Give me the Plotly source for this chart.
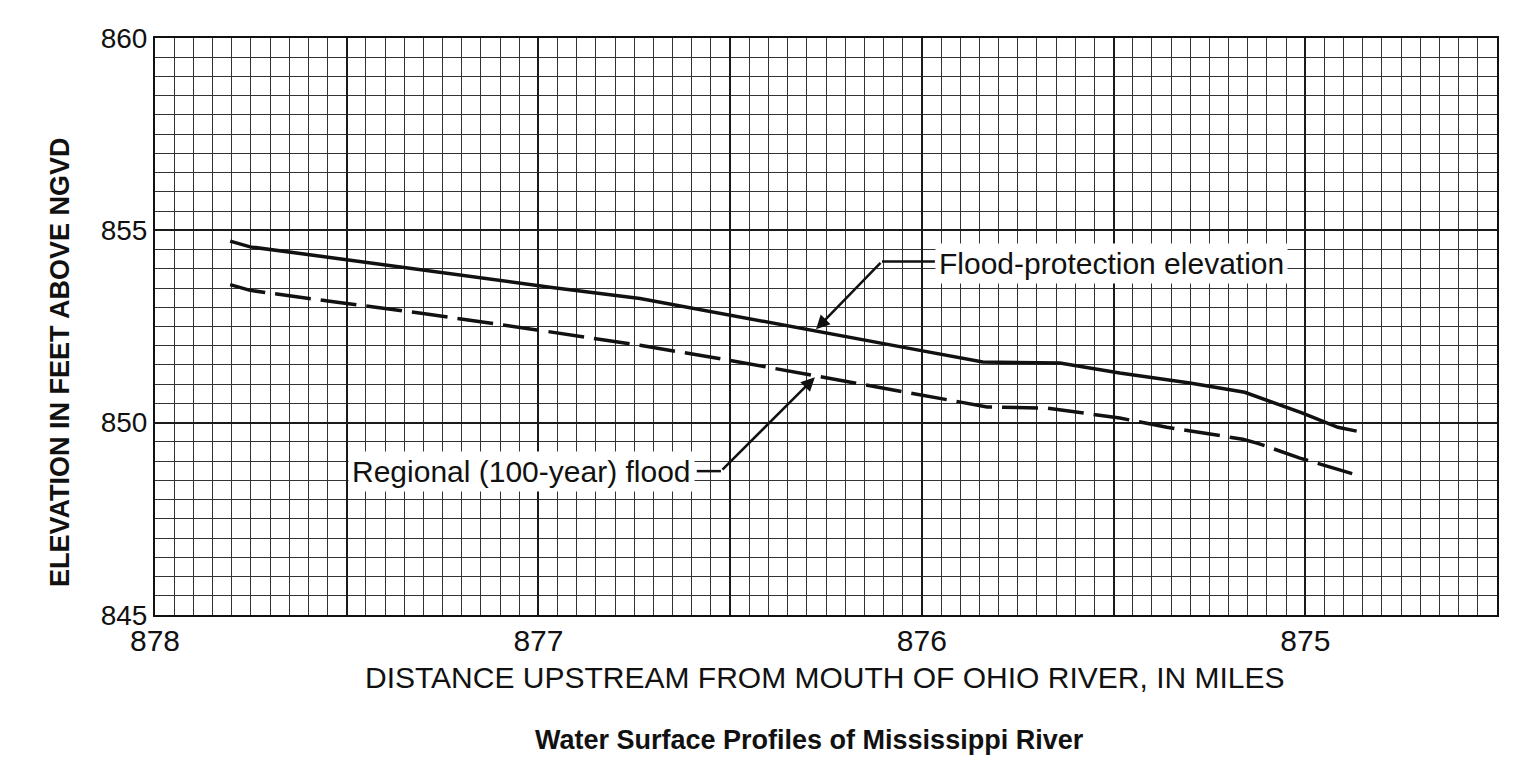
import plotly.graph_objects as go

# Distance upstream (miles) and elevations (ft above NGVD)
fp_miles = [877.804, 877.752, 877.510, 877.301, 876.970, 876.735, 876.501, 876.284,
            876.005, 875.841, 875.640, 875.484, 875.301, 875.158, 875.007, 874.915, 874.866]
fp_elev = [854.72, 854.57, 854.25, 853.96, 853.52, 853.23, 852.79, 852.40,
           851.88, 851.58, 851.55, 851.29, 851.03, 850.79, 850.25, 849.88, 849.78]

rf_miles = [877.804, 877.752, 877.525, 877.301, 876.996, 876.735, 876.501, 876.214,
            876.005, 875.830, 875.674, 875.484, 875.361, 875.163, 875.126, 875.014, 874.866]
rf_elev = [853.59, 853.44, 853.13, 852.84, 852.40, 852.01, 851.62, 851.10,
           850.71, 850.41, 850.38, 850.12, 849.88, 849.57, 849.47, 849.08, 848.64]

x_tickvals = [878, 877.5, 877, 876.5, 876, 875.5, 875]
x_ticktext = ["878", "", "877", "", "876", "", "875"]
y_tickvals = [845, 850, 855, 860]
y_ticktext = ["845", "850", "855", "860"]

fp_label = "Flood-protection elevation"
rf_label = "Regional (100-year) flood"
x_title = "DISTANCE UPSTREAM FROM MOUTH OF OHIO RIVER, IN MILES"
y_title = "ELEVATION IN FEET ABOVE NGVD"
chart_title = "Water Surface Profiles of Mississippi River"

fig = go.Figure()
fig.add_trace(go.Scatter(x=fp_miles, y=fp_elev, mode="lines", name=fp_label,
                         line=dict(color="#111111", width=3.5)))
fig.add_trace(go.Scatter(x=rf_miles, y=rf_elev, mode="lines", name=rf_label,
                         line=dict(color="#111111", width=3.5, dash="36px,10px")))

# Leader lines (horizontal segments)
fig.add_shape(type="line", xref="x", yref="y", x0=876.104, y0=854.19, x1=875.966, y1=854.19,
              line=dict(color="#111111", width=2.5))
fig.add_shape(type="line", xref="x", yref="y", x0=876.524, y0=848.74, x1=876.587, y1=848.74,
              line=dict(color="#111111", width=2.5))

# Arrows
fig.add_annotation(x=876.276, y=852.43, ax=876.104, ay=854.19, axref="x", ayref="y",
                   xref="x", yref="y", text="", showarrow=True, arrowhead=2,
                   arrowsize=1.1, arrowwidth=2.5, arrowcolor="#111111")
fig.add_annotation(x=876.279, y=851.18, ax=876.524, ay=848.74, axref="x", ayref="y",
                   xref="x", yref="y", text="", showarrow=True, arrowhead=2,
                   arrowsize=1.1, arrowwidth=2.5, arrowcolor="#111111")

lbl_font = dict(family="Liberation Sans, Arial, sans-serif", size=30, color="#111111")
fig.add_annotation(x=875.505, y=854.14, xref="x", yref="y", text=fp_label, showarrow=False,
                   font=lbl_font, bgcolor="white", borderpad=3,
                   xanchor="center", yanchor="middle")
fig.add_annotation(x=877.043, y=848.74, xref="x", yref="y", text=rf_label, showarrow=False,
                   font=lbl_font, bgcolor="white", borderpad=3,
                   xanchor="center", yanchor="middle")

# Axis titles and chart title
fig.add_annotation(x=0.4993, y=-0.109, xref="paper", yref="paper", text=x_title,
                   showarrow=False, xanchor="center", yanchor="middle",
                   font=dict(family="Liberation Sans, Arial, sans-serif", size=30,
                             color="#111111"))
fig.add_annotation(x=-0.0708, y=0.4385, xref="paper", yref="paper", text=y_title,
                   showarrow=False, textangle=-90, xanchor="center", yanchor="middle",
                   font=dict(family="Liberation Sans, Arial, sans-serif", size=27,
                             color="#111111", weight="bold"))
fig.add_annotation(x=0.488, y=-0.2166, xref="paper", yref="paper", text=chart_title,
                   showarrow=False, xanchor="center", yanchor="middle",
                   font=dict(family="Liberation Sans Narrow, Arial Narrow, sans-serif",
                             size=27, color="#111111", weight="bold"))

fig.update_xaxes(range=[878, 874.5], tickmode="array", tickvals=x_tickvals, ticktext=x_ticktext,
                 showgrid=True, gridcolor="#1a1a1a", gridwidth=2,
                 minor=dict(dtick=0.05, showgrid=True, gridcolor="#333333", gridwidth=1),
                 showline=True, linecolor="#111111", linewidth=2, mirror=True,
                 zeroline=False, ticks="", ticklabelstandoff=-2,
                 tickfont=dict(family="Liberation Sans, Arial, sans-serif", size=30,
                               color="#111111"))
fig.update_yaxes(range=[845, 860], tickmode="array", tickvals=y_tickvals, ticktext=y_ticktext,
                 showgrid=True, gridcolor="#1a1a1a", gridwidth=2,
                 minor=dict(dtick=0.5, showgrid=True, gridcolor="#333333", gridwidth=1),
                 showline=True, linecolor="#111111", linewidth=2, mirror=True,
                 zeroline=False, ticks="",
                 tickfont=dict(family="Liberation Sans, Arial, sans-serif", size=28,
                               color="#111111"))

fig.update_layout(width=1511, height=754, margin=dict(l=147, r=22, t=30, b=147),
                  plot_bgcolor="white", paper_bgcolor="white", showlegend=False)

fig.write_html("out.html")
